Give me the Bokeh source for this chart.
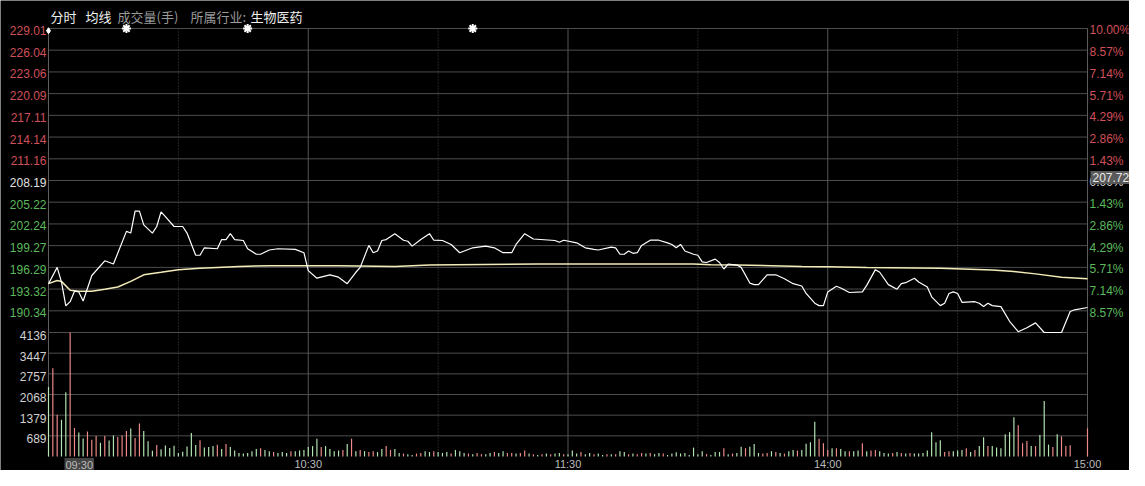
from bokeh.plotting import figure
from bokeh.models import Range1d, Label
from bokeh.core.properties import value
from bokeh.embed import file_html
from bokeh.resources import INLINE

# ---------------- data ----------------
prev_close = 208.19
price_ticks = [229.01, 226.04, 223.06, 220.09, 217.11, 214.14, 211.16, 208.19,
               205.22, 202.24, 199.27, 196.29, 193.32, 190.34]
pct_labels = ["10.00%", "8.57%", "7.14%", "5.71%", "4.29%", "2.86%", "1.43%", "0.00%",
              "1.43%", "2.86%", "4.29%", "5.71%", "7.14%", "8.57%"]
price_floor = 187.37
price_top = 229.01
vol_ticks = [689, 1379, 2068, 2757, 3447, 4136]
hour_ticks = [0, 60, 120, 180, 240]
half_hour_ticks = [30, 90, 150, 210]
time_labels = ["09:30", "10:30", "11:30", "14:00", "15:00"]
event_minutes = [18, 46, 98]
cursor_price = 207.72

price_minutes = [0, 2, 3, 4, 5, 6, 7, 8, 10, 13, 15, 18, 19, 20, 21, 22, 24, 25, 26, 27,
                 29, 31, 32, 34, 35, 36, 39, 40, 41, 42, 43, 45, 46, 48, 49, 51, 53, 57, 59, 60,
                 62, 65, 67, 69, 71, 72, 74, 75, 76, 77, 78, 80, 82, 83, 84, 86, 88, 89, 91, 93,
                 95, 98, 101, 103, 105, 107, 108, 110, 112, 117, 118, 119, 122, 124, 126, 127,
                 130, 131, 132, 133, 134, 135, 136, 137, 139, 141, 143, 144, 145, 146, 147, 149,
                 150, 151, 152, 154, 155, 156, 157, 159, 160, 162, 163, 164, 166, 168, 170, 172,
                 174, 175, 177, 178, 179, 180, 182, 183, 185, 188, 189, 191, 192, 194, 196, 197,
                 198, 200, 201, 203, 204, 206, 207, 208, 209, 210, 211, 214, 215, 216, 217, 218,
                 220, 222, 224, 226, 228, 230, 234, 236, 237, 240]
price_values = [194.06, 196.29, 194.28, 191.01, 191.59, 193.03, 192.93, 191.68, 195.18, 197.19,
                196.75, 201.22, 200.99, 204.00, 204.00, 202.12, 200.99, 201.89, 203.90, 203.23,
                201.89, 201.89, 200.99, 197.95, 197.95, 198.97, 198.84, 200.10, 200.10, 200.91,
                200.10, 199.97, 198.84, 198.09, 198.09, 198.67, 198.84, 198.76, 198.30, 195.85,
                194.81, 195.27, 194.95, 194.06, 195.62, 196.29, 199.30, 198.30, 198.53, 199.97,
                200.10, 200.91, 200.01, 199.87, 199.20, 200.10, 200.91, 200.01, 199.97, 199.43,
                198.30, 198.97, 199.20, 198.97, 198.30, 198.30, 199.43, 200.91, 200.18, 199.97,
                199.74, 200.01, 199.65, 198.97, 198.76, 198.67, 199.07, 198.97, 198.09, 198.09,
                198.53, 198.22, 198.30, 199.30, 200.01, 200.01, 199.65, 199.43, 198.97, 199.43,
                198.53, 198.09, 197.95, 197.05, 196.96, 197.42, 196.96, 196.07, 196.75, 196.61,
                196.29, 194.14, 193.93, 193.93, 195.27, 195.27, 194.73, 194.06, 193.74, 192.72,
                191.38, 191.05, 191.05, 192.93, 193.70, 193.47, 192.85, 192.93, 193.83, 195.98,
                195.62, 193.93, 193.30, 194.06, 194.19, 194.81, 194.28, 193.60, 192.26, 191.05,
                191.38, 192.72, 192.93, 192.72, 191.51, 191.59, 191.38, 190.92, 191.38, 191.05,
                190.92, 188.91, 187.48, 188.02, 188.69, 187.37, 187.37, 190.25, 190.48, 190.79]

avg_minutes = [0, 2, 3, 5, 7, 10, 13, 16, 19, 22, 26, 30, 35, 39, 44, 51, 67, 80, 88, 113,
               149, 153, 159, 167, 174, 180, 189, 206, 218, 223, 228, 234, 240]
avg_values = [194.06, 194.50, 194.37, 193.16, 193.03, 193.03, 193.30, 193.60, 194.37, 195.27,
              195.62, 195.98, 196.16, 196.29, 196.42, 196.52, 196.52, 196.42, 196.61, 196.75,
              196.75, 196.65, 196.61, 196.52, 196.42, 196.38, 196.29, 196.16, 195.94, 195.71,
              195.40, 194.95, 194.73]

volumes = [2317, 2940, 1396, 1227, 2139, 4136, 950, 802, 603, 832,
           555, 683, 455, 683, 535, 703, 653, 703, 852, 930,
           614, 1099, 852, 505, 188, 386, 238, 366, 287, 356,
           119, 158, 337, 782, 386,
           545, 297, 317, 347, 396, 248, 416, 317, 198, 119,
           99, 119, 178, 248, 277, 218, 178, 149, 119, 149,
           119, 178, 178, 198, 218, 317, 347, 594, 317, 347,
           248, 178, 198, 218, 416, 594, 178, 218, 178, 149,
           178, 149, 248, 347, 218, 248, 119, 99, 79, 50,
           99, 119, 178, 149, 178, 149, 119, 149, 99, 218,
           178, 119, 99, 79, 119, 79, 79, 119, 149, 119,
           178, 119, 119, 99, 119, 198, 99, 79, 50, 79,
           99, 79, 99, 119, 79, 79, 198, 99, 149, 79,
           119, 79, 99, 50, 79, 79, 79, 178, 149, 79,
           99, 79, 119, 99, 119, 79, 119, 99, 50, 99,
           139, 99, 119,
           50, 297, 79, 178, 79, 50, 149, 149, 277, 79,
           99, 119, 327, 277, 327, 416, 119, 99, 119, 178,
           149, 119, 99, 178, 218, 198, 218, 426, 475, 1158,
           594, 445, 218, 277, 277, 248, 178, 178, 178, 198,
           445, 178, 198, 218, 178, 119, 99, 119, 149, 119,
           99, 119, 99, 99, 119, 198, 812, 475, 545, 149,
           178, 178, 198, 218, 277, 149, 218, 347, 644, 347,
           347, 297, 277, 743, 812, 1307, 1040, 445, 515, 347,
           347, 713, 1851, 396, 317, 743, 673, 347, 376,
           0, 0, 0, 940]
vol_dir = ("grrggrrggr" "rrgrggrrrg" "rrgggrgggg" "gggggrgggr" "grgggggggr"
           "ggrgggrggg" "gggrggggrg" "rgrgrrggrr" "ggrggrrggr" "gggrgggrgr"
           "rggrggrrgr" "rgrgrgrggr" "gggrggrggr" "grggrgrrgr" "ggrggggggg"
           "ggrgggrgrg" "grgggrrgrg" "rggrggggrr" "rgrggrggrg" "rrgggrgrgr"
           "gggggggrrg" "ggrgrggrgg" "ggggrrrgrg" "ggrgrrrrrrr")

# ---------------- styling ----------------
RED_TXT = "#d0505a"
GREEN_TXT = "#5cb85c"
NEUTRAL_TXT = "#e2e2e2"
GRID = "#4d4d4d"
EDGE = "#5e5e5e"
NUM_FONT = value("Liberation Sans")
CJK_FONT = value("Noto Sans CJK SC")

# the whole canvas is the plotting frame so that outside labels are not clipped
p = figure(width=1129, height=470,
           x_range=Range1d(-11.088, 249.702), y_range=Range1d(168.468, 232.845),
           x_axis_type=None, y_axis_type=None,
           output_backend="svg", toolbar_location=None,
           background_fill_color="#000000", border_fill_color="#000000",
           outline_line_color=None,
           min_border_left=0, min_border_right=0, min_border_top=0, min_border_bottom=0)
p.extra_y_ranges = {"vol": Range1d(-466.97, 15209.9)}
p.grid.visible = False

x0, x1 = hour_ticks[0], hour_ticks[-1]

# horizontal grid lines (price panel and volume panel)
hp = price_ticks + [price_floor]
p.segment(x0=[x0] * len(hp), x1=[x1] * len(hp), y0=hp, y1=hp, line_color=GRID, line_width=1)
vt = vol_ticks[:-1]
p.segment(x0=[x0] * len(vt), x1=[x1] * len(vt), y0=vt, y1=vt, line_color=GRID, line_width=1,
          y_range_name="vol")

# vertical grid lines
inner = hour_ticks[1:-1]
edges = [hour_ticks[0], hour_ticks[-1]]
for xs, col, dash in [(inner, "#555555", "solid"), (edges, EDGE, "solid"),
                      (half_hour_ticks, "#454545", "1 2")]:
    p.segment(x0=xs, x1=xs, y0=[price_floor] * len(xs), y1=[price_top] * len(xs),
              line_color=col, line_width=1, line_dash=dash)
    p.segment(x0=xs, x1=xs, y0=[0] * len(xs), y1=[vol_ticks[-1]] * len(xs),
              line_color=col, line_width=1, line_dash=dash, y_range_name="vol")

# volume bars
vol_x = list(range(len(volumes)))
vol_col = ["#f08a8a" if d == "r" else "#b4e6b4" for d in vol_dir]
p.vbar(x=vol_x, top=volumes, bottom=0, width=0.27, y_range_name="vol",
       fill_color=vol_col, line_color=None)

# price + average lines
p.line(avg_minutes, avg_values, line_color="#f3ecb8", line_width=1.5)
p.line(price_minutes, price_values, line_color="#ffffff", line_width=1.2)

# event markers
p.scatter(event_minutes, [price_top] * len(event_minutes), marker="asterisk",
          size=9, line_color="#ffffff", line_width=2)
p.scatter([0], [price_top - 0.3], marker="diamond", size=6, fill_color="#ffffff",
          line_color="#ffffff")

# price tick labels (left) and percentage labels (right)
lab_colors = [RED_TXT if t > prev_close else (NEUTRAL_TXT if t == prev_close else GREEN_TXT)
              for t in price_ticks]
p.text(x=[x0] * len(price_ticks), y=price_ticks, text=[f"{t:.2f}" for t in price_ticks],
       text_color=lab_colors, text_align="right", text_baseline="middle",
       x_offset=-2, y_offset=2, text_font=NUM_FONT, text_font_size="12px")
p.text(x=[x1] * len(price_ticks), y=price_ticks, text=pct_labels,
       text_color=lab_colors, text_align="left", text_baseline="middle",
       x_offset=2, y_offset=2, text_font=NUM_FONT, text_font_size="12px")

# volume tick labels (left)
p.text(x=[x0] * len(vol_ticks), y=vol_ticks, text=[str(v) for v in vol_ticks],
       text_color="#d0d0d0", text_align="right", text_baseline="middle",
       x_offset=-2, y_offset=3, text_font=NUM_FONT, text_font_size="12px",
       y_range_name="vol")

# cursor price box on the right
p.add_layout(Label(x=x1, y=cursor_price, text=f"{cursor_price:.2f}", x_offset=3,
                   text_align="left", text_baseline="bottom", text_color="#e8e8e8",
                   text_font="Liberation Sans", text_font_size="12px",
                   background_fill_color="#5a5a5a", padding=2))

# header row
header_text = ["分时", "均线", "成交量(手)", "所属行业:", "生物医药"]
header_color = ["#f0f0f0", "#f0f0f0", "#9a9a9a", "#9a9a9a", "#f0f0f0"]
header_x = [0.46, 8.55, 15.94, 32.8, 46.66]
p.text(x=header_x, y=[230.64] * len(header_x), text=header_text, text_color=header_color,
       text_align="left", text_baseline="middle", text_font=CJK_FONT, text_font_size="13px")

# time labels at the bottom
p.text(x=hour_ticks[1:], y=[-50] * 4, text=time_labels[1:], text_color="#bbbbbb",
       text_align="center", text_baseline="top", text_font=NUM_FONT, text_font_size="11px",
       y_range_name="vol")
p.add_layout(Label(x=x0, y=-50, y_range_name="vol", text=time_labels[0],
                   x_offset=16, text_color="#bbbbbb", text_align="left", text_baseline="top",
                   text_font="Liberation Sans", text_font_size="11px",
                   background_fill_color="#444444", padding=1))

open("out.html", "w").write(file_html(p, INLINE))
